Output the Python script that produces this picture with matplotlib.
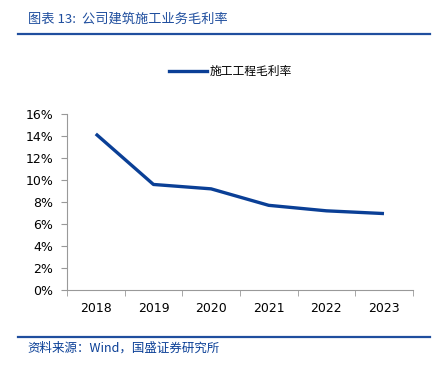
import matplotlib.pyplot as plt
from matplotlib.lines import Line2D
from matplotlib.ticker import FuncFormatter

plt.rcParams['font.family'] = ['Noto Sans CJK SC', 'DejaVu Sans']

years = ["2018", "2019", "2020", "2021", "2022", "2023"]
margin = [14.2, 9.6, 9.2, 7.7, 7.2, 6.95]
series_name = "施工工程毛利率"
title = "图表 13:  公司建筑施工业务毛利率"
source = "资料来源：Wind，国盛证券研究所"

blue = "#0a3f96"
line_blue = "#1f4e9e"

fig = plt.figure(figsize=(4.35, 3.67), dpi=100)
ax = fig.add_axes([0.154, 0.21, 0.795, 0.479])

x = list(range(len(years)))
ax.plot(x, margin, color=blue, lw=2.4, solid_capstyle='butt')
ax.set_xlim(-0.5, len(years) - 0.5)
ax.set_ylim(0, 16)
ax.set_yticks(range(0, 17, 2))
ax.yaxis.set_major_formatter(FuncFormatter(lambda v, p: f"{v:.0f}%"))
ax.set_xticks(x)
ax.set_xticklabels(years, family='DejaVu Sans')
ax.set_xticks([i - 0.5 for i in range(len(years) + 1)], minor=True)
ax.tick_params(axis='x', which='major', length=0, pad=9, labelsize=9)
ax.tick_params(axis='x', which='minor', length=4, color='#999999')
ax.tick_params(axis='y', length=4, color='#999999', labelsize=9, pad=6)
for lbl in ax.get_yticklabels():
    lbl.set_family('DejaVu Sans')
for s in ['top', 'right']:
    ax.spines[s].set_visible(False)
ax.spines['left'].set_color('#999999')
ax.spines['bottom'].set_color('#999999')

handle = Line2D([], [], color=blue, lw=2.4)
fig.legend([handle], [series_name], loc='center', bbox_to_anchor=(0.53, 0.806),
           frameon=False, fontsize=8.5, handlelength=3.2, handletextpad=0.3)

fig.text(0.064, 0.948, title, color="#1f4e9e", fontsize=9.5, va='center')
fig.add_artist(Line2D([0.041, 0.989], [0.907, 0.907], color=line_blue, lw=1.6))
fig.add_artist(Line2D([0.041, 0.989], [0.082, 0.082], color=line_blue, lw=1.6))
fig.text(0.064, 0.05, source, color=blue, fontsize=9, va='center')

fig.savefig("out.png", dpi=100)
